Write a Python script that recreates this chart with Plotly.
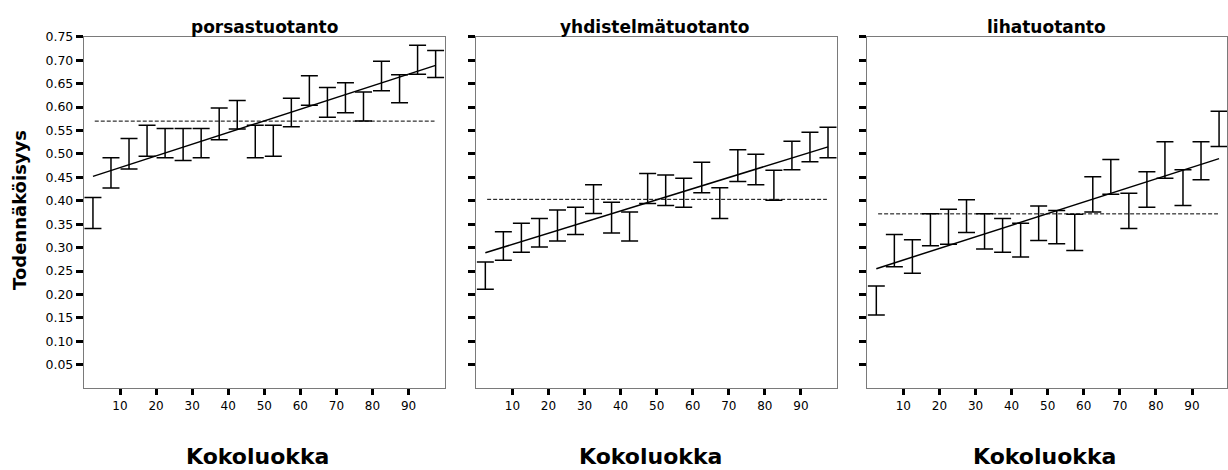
import plotly.graph_objects as go

# Size class midpoints (percentile classes of 5 units)
class_mid = [2.5, 7.5, 12.5, 17.5, 22.5, 27.5, 32.5, 37.5, 42.5, 47.5,
             52.5, 57.5, 62.5, 67.5, 72.5, 77.5, 82.5, 87.5, 92.5, 97.5]

# Production lines
panel_titles = ["porsastuotanto", "yhdistelmätuotanto", "lihatuotanto"]

# Confidence interval limits per size class
pors_lo = [0.341, 0.427, 0.468, 0.495, 0.492, 0.486, 0.492, 0.530, 0.553, 0.492,
           0.495, 0.558, 0.604, 0.578, 0.588, 0.570, 0.635, 0.609, 0.670, 0.663]
pors_hi = [0.407, 0.492, 0.533, 0.561, 0.554, 0.554, 0.554, 0.598, 0.614, 0.561,
           0.561, 0.619, 0.667, 0.642, 0.652, 0.632, 0.698, 0.669, 0.732, 0.721]

yhd_lo = [0.211, 0.273, 0.290, 0.301, 0.314, 0.328, 0.373, 0.331, 0.314, 0.394,
          0.390, 0.386, 0.417, 0.362, 0.441, 0.434, 0.401, 0.466, 0.483, 0.492]
yhd_hi = [0.269, 0.334, 0.352, 0.362, 0.380, 0.386, 0.434, 0.397, 0.376, 0.458,
          0.455, 0.448, 0.482, 0.428, 0.509, 0.499, 0.465, 0.527, 0.546, 0.557]

liha_lo = [0.156, 0.259, 0.245, 0.304, 0.307, 0.332, 0.297, 0.290, 0.280, 0.315,
           0.308, 0.294, 0.376, 0.414, 0.341, 0.386, 0.448, 0.390, 0.445, 0.516]
liha_hi = [0.218, 0.328, 0.317, 0.372, 0.382, 0.402, 0.372, 0.362, 0.352, 0.389,
           0.379, 0.371, 0.451, 0.488, 0.416, 0.462, 0.526, 0.466, 0.526, 0.591]

# Overall mean probability per production line
overall_mean = [0.570, 0.403, 0.372]

# Fitted trend: value at the first and last size class
fit_start = [0.452, 0.289, 0.255]
fit_end = [0.689, 0.515, 0.490]

# Axis ticks
x_ticks = [10, 20, 30, 40, 50, 60, 70, 80, 90]
y_ticks = [0.05, 0.10, 0.15, 0.20, 0.25, 0.30, 0.35, 0.40, 0.45, 0.50,
           0.55, 0.60, 0.65, 0.70, 0.75]

x_label = "Kokoluokka"
y_label = "Todennäköisyys"

lows = [pors_lo, yhd_lo, liha_lo]
highs = [pors_hi, yhd_hi, liha_hi]

W, H = 1228, 470
x_domains = [[84 / W, 445 / W], [476.7 / W, 837.7 / W], [868 / W, 1.0]]
x_ranges = [[0, 100], [0, 100], [0, 99.7]]
y_domain = [1 - 386.7 / H, 1 - 29.3 / H]

FONT = "DejaVu Sans, Arial, sans-serif"
FRAME = "#7a7a7a"

fig = go.Figure()

for i in range(3):
    suffix = "" if i == 0 else str(i + 1)
    xa, ya = "x" + suffix, "y" + suffix
    lo, hi = lows[i], highs[i]
    mid = [(a + b) / 2 for a, b in zip(lo, hi)]
    err_up = [b - m for b, m in zip(hi, mid)]
    err_dn = [m - a for a, m in zip(lo, mid)]

    # mean reference line
    fig.add_trace(go.Scatter(
        x=[class_mid[0] + 0.5, class_mid[-1] - 0.3],
        y=[overall_mean[i], overall_mean[i]],
        mode="lines", line=dict(color="black", width=1, dash="4px,2px"),
        xaxis=xa, yaxis=ya, showlegend=False, hoverinfo="skip"))

    # fitted trend line
    fig.add_trace(go.Scatter(
        x=[class_mid[0], class_mid[-1]],
        y=[fit_start[i], fit_end[i]],
        mode="lines", line=dict(color="black", width=1.5),
        xaxis=xa, yaxis=ya, showlegend=False, hoverinfo="skip"))

    # confidence intervals
    fig.add_trace(go.Scatter(
        x=class_mid, y=mid, mode="markers",
        marker=dict(size=1, color="rgba(0,0,0,0)"),
        error_y=dict(type="data", symmetric=False, array=err_up, arrayminus=err_dn,
                     color="black", thickness=1.5, width=8.5),
        xaxis=xa, yaxis=ya, showlegend=False))

    fig.layout["xaxis" + suffix] = dict(
        domain=x_domains[i], range=x_ranges[i], anchor=ya,
        tickmode="array", tickvals=x_ticks, ticktext=[str(t) for t in x_ticks],
        ticks="outside", ticklen=6, tickwidth=3, tickcolor="black",
        showline=True, linecolor=FRAME, linewidth=1.2, mirror=True,
        showgrid=False, zeroline=False,
        tickfont=dict(family=FONT, size=12, color="black"))
    fig.layout["yaxis" + suffix] = dict(
        domain=y_domain, range=[0, 0.75], anchor=xa,
        tickmode="array", tickvals=y_ticks,
        ticktext=["%.2f" % t for t in y_ticks],
        showticklabels=(i == 0),
        ticks="outside", ticklen=7, tickwidth=3, tickcolor="black",
        showline=True, linecolor=FRAME, linewidth=1.2, mirror=True,
        showgrid=False, zeroline=False,
        tickfont=dict(family=FONT, size=12.5, color="black"))

annotations = []
title_centers = [264.5, 655, 1047]
for i in range(3):
    annotations.append(dict(
        text="<b>%s</b>" % panel_titles[i], xref="paper", yref="paper",
        x=title_centers[i] / W, y=1 - 19 / H, xanchor="center", yanchor="middle",
        showarrow=False, font=dict(family=FONT, size=17, color="black")))

label_centers = [258, 650.7, 1045.7]
for i in range(3):
    annotations.append(dict(
        text="<b>%s</b>" % x_label, xref="paper", yref="paper",
        x=label_centers[i] / W, y=1 - 456 / H, xanchor="center", yanchor="middle",
        showarrow=False, font=dict(family=FONT, size=22, color="black")))

annotations.append(dict(
    text="<b>%s</b>" % y_label, xref="paper", yref="paper",
    x=19.5 / W, y=1 - 205 / H, xanchor="center", yanchor="middle",
    textangle=-90, showarrow=False,
    font=dict(family=FONT, size=18, color="black")))

fig.update_layout(
    width=W, height=H, margin=dict(l=0, r=0, t=0, b=0),
    paper_bgcolor="white", plot_bgcolor="white",
    annotations=annotations, showlegend=False)

fig.write_html("out.html")
